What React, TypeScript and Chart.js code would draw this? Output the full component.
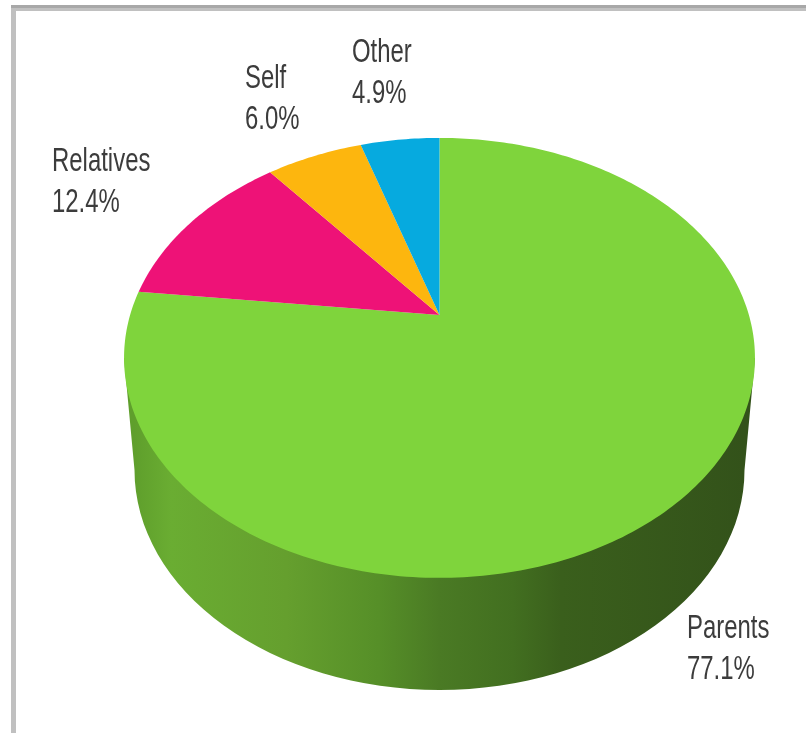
import React, { useEffect, useRef } from "react";
import { Chart, registerables } from "chart.js";

Chart.register(...registerables);

// Who the respondents' support comes from, clockwise from twelve o'clock.
const categories = ["Parents", "Relatives", "Self", "Other"];
const shares = [77.1, 12.4, 6.0, 4.9];
const sliceColors = ["#7fd43c", "#ee1277", "#fdb60e", "#06aadf"];

// Text anchors for each category: left edge and the baseline of the first line.
const labelX = [687, 52, 245, 352];
const labelY = [638, 171, 88, 62];
const labelLineGap = 41;

const WIDTH = 806;
const HEIGHT = 733;

// Tilted disc: a projective mapping of the unit circle, so the hub sits above the ellipse centre.
const HUB_X = 439.5;
const HUB_Y = 315;
const SPREAD_X = 309.4;
const SPREAD_Y = 211.6;
const TILT = 0.195;

// Rim of the disc.
const TOP_CENTER_Y = 358;
const TOP_RX = 315.5;
const BASE_CENTER_Y = 470;
const BASE_RX = 305;
const BASE_RY = 220;

const wallStops: [number, string][] = [
  [0, "#5f9f2c"],
  [0.06, "#6aad32"],
  [0.25, "#659f2e"],
  [0.4, "#568f28"],
  [0.5, "#4a7a24"],
  [0.62, "#426f20"],
  [0.7, "#3a5f1c"],
  [1, "#33521a"],
];

function project(angle: number): [number, number] {
  const u = Math.cos(angle);
  const v = Math.sin(angle);
  const w = 1 - TILT * v;
  return [HUB_X + (SPREAD_X * u) / w, HUB_Y + (SPREAD_Y * v) / w];
}

const tiltedPie = {
  id: "tiltedPie",
  beforeDraw(chart: any) {
    const { ctx } = chart;
    ctx.save();
    ctx.fillStyle = "#ffffff";
    ctx.fillRect(0, 0, WIDTH, HEIGHT);
    // Frame along the top and left edges.
    ctx.fillStyle = "#c0c0c0";
    ctx.fillRect(11, 5, 5, HEIGHT - 5);
    ctx.fillRect(11, 8, WIDTH - 11, 3);
    ctx.fillStyle = "#a8a8a8";
    ctx.fillRect(11, 5, WIDTH - 11, 3);
    ctx.restore();
  },
  beforeDatasetsDraw(chart: any) {
    // Side wall under the disc.
    const { ctx } = chart;
    const gradient = ctx.createLinearGradient(HUB_X - BASE_RX, 0, HUB_X + BASE_RX, 0);
    wallStops.forEach(([offset, color]) => gradient.addColorStop(offset, color));
    ctx.save();
    ctx.beginPath();
    ctx.moveTo(HUB_X + TOP_RX, TOP_CENTER_Y);
    ctx.lineTo(HUB_X + BASE_RX, BASE_CENTER_Y);
    ctx.ellipse(HUB_X, BASE_CENTER_Y, BASE_RX, BASE_RY, 0, 0, Math.PI);
    ctx.lineTo(HUB_X - TOP_RX, TOP_CENTER_Y);
    ctx.closePath();
    ctx.fillStyle = gradient;
    ctx.fill();
    ctx.restore();
  },
  beforeDatasetDraw(chart: any, args: any) {
    // Slices keep the angles the pie controller computed, painted through the projection.
    const { ctx } = chart;
    args.meta.data.forEach((arc: any, index: number) => {
      const { startAngle, endAngle } = arc;
      const steps = Math.max(8, Math.ceil((endAngle - startAngle) * 60));
      ctx.save();
      ctx.beginPath();
      ctx.moveTo(HUB_X, HUB_Y);
      for (let i = 0; i <= steps; i++) {
        const [x, y] = project(startAngle + ((endAngle - startAngle) * i) / steps);
        ctx.lineTo(x, y);
      }
      ctx.closePath();
      ctx.fillStyle = sliceColors[index];
      ctx.fill();
      ctx.restore();
    });
    return false;
  },
  afterDraw(chart: any) {
    const { ctx } = chart;
    ctx.save();
    ctx.fillStyle = "#3c3c3c";
    ctx.font = '33px "Liberation Sans"';
    ctx.textBaseline = "alphabetic";
    ctx.textAlign = "left";
    categories.forEach((name, i) => {
      const lines = [name, `${shares[i].toFixed(1)}%`];
      lines.forEach((text, j) => {
        ctx.save();
        ctx.translate(labelX[i], labelY[i] + j * labelLineGap);
        ctx.scale(0.725, 1);
        ctx.fillText(text, 0, 0);
        ctx.restore();
      });
    });
    ctx.restore();
  },
};

export default function App() {
  const canvasRef = useRef<HTMLCanvasElement>(null);

  useEffect(() => {
    const chart = new Chart(canvasRef.current as HTMLCanvasElement, {
      type: "pie",
      data: {
        labels: categories,
        datasets: [{ data: shares, backgroundColor: sliceColors, borderWidth: 0 }],
      },
      options: {
        responsive: false,
        animation: false,
        plugins: { legend: { display: false }, tooltip: { enabled: false } },
      },
      plugins: [tiltedPie],
    } as any);
    return () => chart.destroy();
  }, []);

  return (
    <canvas
      ref={canvasRef}
      width={WIDTH}
      height={HEIGHT}
      style={{ position: "absolute", left: 0, top: 0, display: "block" }}
    />
  );
}
